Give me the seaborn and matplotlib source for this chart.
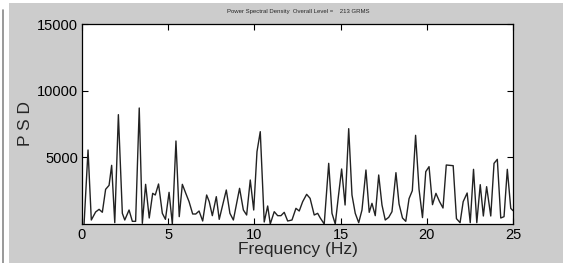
import matplotlib
matplotlib.use("Agg")
import matplotlib.pyplot as plt
import seaborn as sns
import pandas as pd
from matplotlib.patches import Rectangle
from matplotlib.lines import Line2D

freq = [0.12, 0.35, 0.54, 0.79, 0.99, 1.18, 1.37, 1.57, 1.72, 1.90,
        2.11, 2.34, 2.48, 2.73, 2.92, 3.11, 3.32, 3.50, 3.69, 3.90,
        4.10, 4.25, 4.44, 4.66, 4.84, 5.05, 5.24, 5.45, 5.64, 5.82,
        6.02, 6.21, 6.42, 6.60, 6.79, 7.00, 7.23, 7.38, 7.56, 7.79,
        7.96, 8.16, 8.37, 8.58, 8.78, 9.14, 9.36, 9.55, 9.76, 9.96,
        10.15, 10.34, 10.57, 10.77, 10.92, 11.15, 11.35, 11.54, 11.73, 11.93,
        12.18, 12.41, 12.60, 12.80, 13.03, 13.23, 13.47, 13.67, 13.82, 14.05,
        14.31, 14.50, 14.69, 14.87, 15.06, 15.26, 15.47, 15.66, 15.85, 16.05,
        16.24, 16.47, 16.66, 16.82, 17.01, 17.21, 17.40, 17.59, 17.79, 17.98,
        18.21, 18.39, 18.59, 18.78, 18.97, 19.16, 19.35, 19.55, 19.75, 19.94,
        20.13, 20.33, 20.53, 20.74, 20.94, 21.13, 21.32, 21.53, 21.72, 21.93,
        22.11, 22.34, 22.52, 22.71, 22.90, 23.10, 23.28, 23.47, 23.71, 23.90,
        24.09, 24.29, 24.48, 24.67, 24.87, 25.0]
psd = [0, 5550, 300, 900, 1100, 880, 2600, 2900, 4400, 100,
       8200, 800, 300, 1050, 200, 200, 8700, 50, 2975, 450,
       2300, 2175, 3000, 800, 350, 2375, 0, 6225, 550, 2975,
       2300, 1675, 750, 750, 975, 225, 2175, 1675, 625, 2050,
       350, 1425, 2550, 800, 300, 2675, 1050, 675, 3300, 1050,
       5425, 6925, 150, 1350, 0, 925, 625, 625, 875, 225,
       300, 1175, 975, 1675, 2225, 1925, 675, 800, 450, 0,
       4550, 800, 0, 2050, 4125, 1425, 7150, 2175, 800, 100,
       1050, 4050, 875, 1550, 625, 3675, 1425, 300, 500, 925,
       3850, 1500, 450, 200, 1900, 2500, 6650, 2600, 480, 3925,
       4300, 1450, 2300, 1675, 1200, 4425, 4400, 4375, 400, 100,
       1675, 2325, 100, 4100, 100, 2950, 600, 2800, 600, 4550,
       4850, 450, 550, 4100, 1175, 1000]

xticks = [0, 5, 10, 15, 20, 25]
yticks = [5000, 10000, 15000]
title = "Power Spectral Density  Overall Level =    213 GRMS"

sns.set_style("ticks")
plt.rcParams['font.family'] = ['Liberation Sans', 'DejaVu Sans']

BG = "#cccccc"
fig = plt.figure(figsize=(5.63, 2.63), dpi=100, facecolor="white")
fig.patches.append(Rectangle((9 / 563, 0), 1 - 9 / 563, 1 - 3 / 263,
                             transform=fig.transFigure, facecolor=BG,
                             edgecolor="none", zorder=-10))
fig.lines.append(Line2D([3 / 563, 3 / 563], [0, 1 - 10 / 263],
                        transform=fig.transFigure, color="#888888", lw=1.2))

ax = fig.add_axes([82 / 563, 1 - 224 / 263, 431 / 563, 200 / 263])
ax.set_facecolor("white")
df = pd.DataFrame({"Frequency": freq, "PSD": psd})
sns.lineplot(data=df, x="Frequency", y="PSD", ax=ax, color="#222222",
             lw=1.0, estimator=None, sort=False)

ax.set_xlim(0, 25)
ax.set_ylim(0, 15000)
ax.set_xticks(xticks)
ax.set_yticks(yticks)
ax.tick_params(direction="in", length=4, width=0.8, top=True, right=True,
               labelsize=10.5, pad=3, colors="black")
for s in ax.spines.values():
    s.set_visible(True)
    s.set_linewidth(0.9)
    s.set_color("black")
ax.set_xlabel("Frequency (Hz)", fontsize=12.5, labelpad=0)
ax.set_ylabel("P S D", fontsize=12.5)
ax.yaxis.set_label_coords((33 - 82) / 431, 0.5)
fig.text(298 / 563, 1 - 12 / 263, title, fontsize=4.3, ha="center",
         va="center")

fig.savefig("out.png", dpi=100, facecolor=fig.get_facecolor())
